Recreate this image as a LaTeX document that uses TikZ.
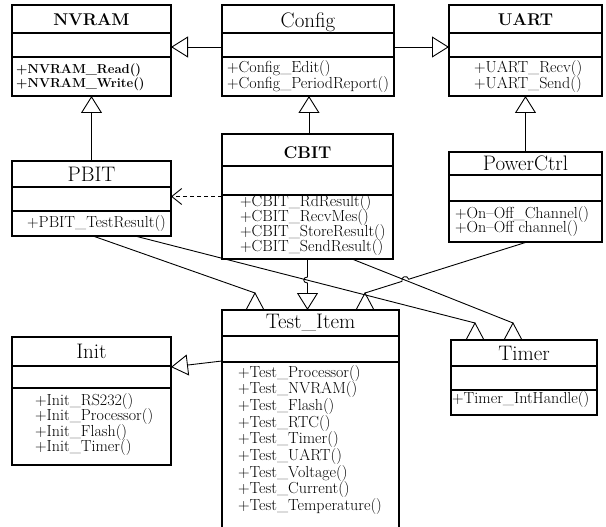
\documentclass[tikz,border=0pt]{standalone}
\usetikzlibrary{arrows.meta,calc}

% class box: name, x1, y1, x2, y2, title divider, attribute divider
\newcommand\umlclass[7]{%
  \node[classbox, minimum width={(#4-#2)*1pt}, minimum height={(#5-#3)*1pt}] (#1) at (#2,#3) {};
  \draw[divider] (#2,#6) -- (#4,#6);
  \draw[divider] (#2,#7) -- (#4,#7);
}

\begin{document}
\begin{tikzpicture}[x=1pt, y=-1pt,
  classbox/.style={draw, line width=1.4pt, inner sep=0pt, outer sep=0pt, anchor=north west},
  divider/.style={line width=1.4pt},
  ttl/.style={font=\fontsize{21}{24}\selectfont, inner sep=0pt, anchor=base},
  ttlb/.style={font=\fontsize{17}{20}\selectfont\bfseries, inner sep=0pt, anchor=base},
  opline/.style={font=\fontsize{16}{18}\selectfont, inner sep=0pt, anchor=base west},
  oplineb/.style={font=\fontsize{13}{16}\selectfont\bfseries, inner sep=0pt, anchor=base west},
  link/.style={line width=0.9pt},
  gen/.style={link, -{Triangle[open, length=17pt, width=21pt, line width=0.9pt]}},
  dep/.style={link, dash pattern=on 4pt off 3pt, -{Straight Barb[length=10pt, width=16pt, line width=0.9pt]}},
  tri/.style={line width=0.9pt, line join=miter}
]
\useasboundingbox (0,0) rectangle (606,527);
\fill[white] (0,0) rectangle (606,527);
\clip (0,0) rectangle (606,527);

% ---------- classes ----------
\umlclass{nvram}{12}{5}{171}{96}{33}{57}
\umlclass{config}{222}{5}{394}{96}{33}{57}
\umlclass{uart}{449}{5}{602}{96}{33}{57}
\umlclass{pbit}{12}{161}{171}{236}{187}{211}
\umlclass{cbit}{222}{134}{393}{259}{166}{195}
\umlclass{powerctrl}{449}{152}{602}{242}{175}{201}
\umlclass{testitem}{222}{310}{399}{545}{336}{362}
\umlclass{init}{12}{337}{171}{465}{366}{388}
\umlclass{timer}{451}{340}{597}{415}{366}{390}

% ---------- class names ----------
\node[ttlb] (nvram-t) at (91.5,26) {NVRAM};
\node[ttl] (config-t) at (308,27.5) {Config};
\node[ttlb] (uart-t) at (525.5,26) {UART};
\node[ttl] (pbit-t) at (91.5,182) {PBIT};
\node[ttlb] (cbit-t) at (307.5,158) {CBIT};
\node[ttl] (powerctrl-t) at (525.5,171) {PowerCtrl};
\node[ttl] (testitem-t) at (310.5,328) {Test\_Item};
\node[ttl] (init-t) at (91.5,358) {Init};
\node[ttl] (timer-t) at (524,360) {Timer};

% ---------- operations ----------
\node[oplineb] (nvram-o1) at (16,74) {+NVRAM\_Read()};
\node[oplineb] (nvram-o2) at (16,87.5) {+NVRAM\_Write()};
\node[opline] (config-o1) at (227,72.5) {+Config\_Edit()};
\node[opline] (config-o2) at (227,89) {+Config\_PeriodReport()};
\node[opline] (uart-o1) at (474,72.5) {+UART\_Recv()};
\node[opline] (uart-o2) at (474,89) {+UART\_Send()};
\node[opline] (pbit-o1) at (27,227) {+PBIT\_TestResult()};
\foreach \t [count=\i] in {+CBIT\_RdResult(), +CBIT\_RecvMes(), +CBIT\_StoreResult(), +CBIT\_SendResult()}
  \node[opline] (cbit-o\i) at (240,{206+15*(\i-1)}) {\t};
\node[opline] (powerctrl-o1) at (455,218) {+On--Off\_Channel()};
\node[opline] (powerctrl-o2) at (455,233) {+On--Off channel()};
\foreach \t [count=\i] in {+Test\_Processor(), +Test\_NVRAM(), +Test\_Flash(), +Test\_RTC(), +Test\_Timer(), +Test\_UART(), +Test\_Voltage(), +Test\_Current(), +Test\_Temperature()}
  \node[opline] (testitem-o\i) at (238,{377+16.7*(\i-1)}) {\t};
\foreach \t [count=\i] in {+Init\_RS232(), +Init\_Processor(), +Init\_Flash(), +Init\_Timer()}
  \node[opline] (init-o\i) at (35,{405+15.5*(\i-1)}) {\t};
\node[opline] (timer-o1) at (452,403) {+Timer\_IntHandle()};

% ---------- generalizations ----------
\draw[gen] ([yshift=3.5pt]config.west) -- ([yshift=3.5pt]nvram.east);
\draw[gen] ([yshift=3.5pt]config.east) -- ([yshift=3.5pt]uart.west);
\draw[gen] (pbit.north) -- (pbit.north |- nvram.south);
\draw[gen] ([xshift=1.5pt]cbit.north) -- ([xshift=1.5pt]cbit.north |- config.south);
\draw[gen] (powerctrl.north) -- (powerctrl.north |- uart.south);
\draw[gen] ([yshift=-51pt]testitem.north west) -- ([yshift=34pt]init.east);
\draw[gen] (cbit.south) -- ++(0,18) .. controls +(-5,0) and +(-5,0) .. ++(0,6)
  -- (cbit.south |- testitem.north);

% ---------- dependency ----------
\draw[dep] (cbit.west) -- (cbit.west -| pbit.east);

% ---------- links ending on upright triangles ----------
\coordinate (pbS1) at ([xshift=1.5pt]pbit.south);
\coordinate (pbS2) at ([xshift=43.5pt]pbit.south);
\coordinate (cbS) at ([xshift=44.5pt]cbit.south);
\coordinate (pcS) at ([xshift=1.5pt]powerctrl.south);
\coordinate (tiA1) at ([shift={(33pt,17pt)}]testitem.north west);
\coordinate (tiA2) at ([shift={(143pt,17pt)}]testitem.north west);
\coordinate (tmA1) at ([shift={(24pt,17pt)}]timer.north west);
\coordinate (tmA2) at ([shift={(62pt,17pt)}]timer.north west);

\draw[link] (pbS1) -- (tiA1);
\draw[link] (pbS2) -- (tmA1);
\draw[link] (cbS) -- (tmA2);
\draw[link] (pcS) -- ($(pcS)!0.730!(tiA2)$)
  .. controls ($(pcS)!0.730!(tiA2)!5pt!-90:(tiA2)$) and ($(pcS)!0.772!(tiA2)!5pt!90:(pcS)$)
  .. ($(pcS)!0.772!(tiA2)$) -- (tiA2);

\foreach \a in {tiA1, tiA2, tmA1, tmA2}
  \draw[tri] (\a) -- ++(-9,17) -- ++(18,0) -- cycle;
\end{tikzpicture}
\end{document}
